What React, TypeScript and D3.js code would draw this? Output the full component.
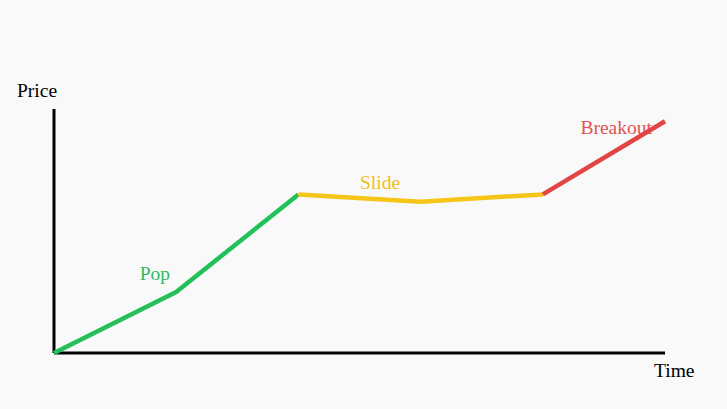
import React from "react";
import * as d3 from "d3";

const steps = [0, 1, 2, 3, 4, 5];
const prices = [0, 25, 65, 62, 65, 95];
const segments = [
  { name: "Pop", from: 0, to: 2, color: "#22c05a", textColor: "#2dbb5f", lx: 0.826, ly: 29.9 },
  { name: "Slide", from: 2, to: 4, color: "#f5c518", textColor: "#f0c020", lx: 2.668, ly: 67.2 },
  { name: "Breakout", from: 4, to: 5, color: "#e34545", textColor: "#de5555", lx: 4.6, ly: 89.7 },
];

export default function App() {
  const W = 727, H = 409;
  const x = d3.scaleLinear().domain([0, 5]).range([54, 665]);
  const y = d3.scaleLinear().domain([0, 100]).range([353, 109]);
  const line = d3.line<number>().x((d) => x(steps[d])).y((d) => y(prices[d]));
  const fs = 19.5;
  return (
    <svg width={W} height={H} style={{ position: "absolute", left: 0, top: 0, background: "#f9f9f9" }}>
      <rect width={W} height={H} fill="#f9f9f9" />
      <line x1={x(0)} x2={x(0)} y1={y(100)} y2={y(0)} stroke="#000" strokeWidth={3} />
      <line x1={x(0)} x2={x(5)} y1={y(0)} y2={y(0)} stroke="#000" strokeWidth={3} />
      <text x={17} y={97} fontFamily="Liberation Serif, serif" fontSize={fs}>Price</text>
      <text x={654} y={377} fontFamily="Liberation Serif, serif" fontSize={fs}>Time</text>
      {segments.map((s) => (
        <text key={s.name + "t"} x={x(s.lx)} y={y(s.ly)} textAnchor="middle" fill={s.textColor}
          fontFamily="Liberation Serif, serif" fontSize={fs}>{s.name}</text>
      ))}
      {segments.map((s) => (
        <path key={s.name} d={line(d3.range(s.from, s.to + 1)) || ""} fill="none" stroke={s.color}
          strokeWidth={4.5} strokeLinejoin="round" />
      ))}
    </svg>
  );
}
